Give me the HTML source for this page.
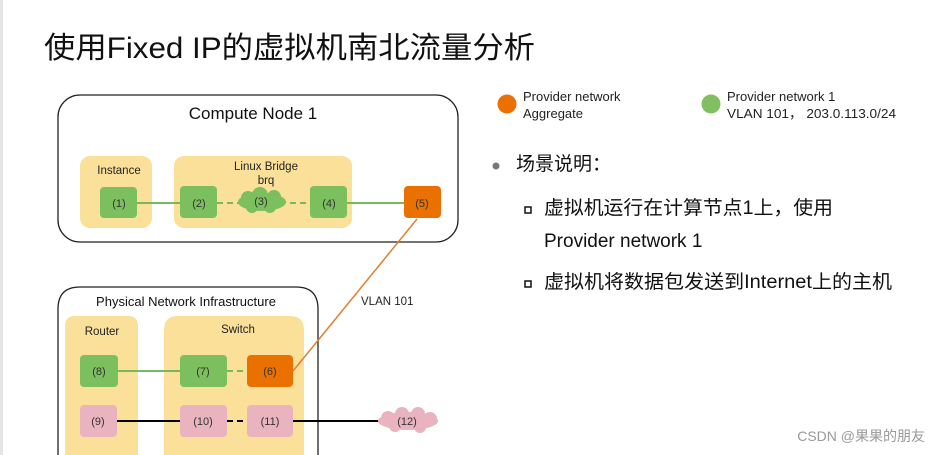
<!DOCTYPE html>
<html><head><meta charset="utf-8"><style>
html,body{margin:0;padding:0;background:#fff;width:939px;height:455px;overflow:hidden}
svg{display:block}
text{font-family:"Liberation Sans","Noto Sans CJK SC",sans-serif}
</style></head><body>
<svg width="939" height="455" viewBox="0 0 939 455" xmlns="http://www.w3.org/2000/svg">
<rect x="0" y="0" width="3" height="455" fill="#e6e6e6"/>
<text x="44" y="58" font-size="30" textLength="491" lengthAdjust="spacingAndGlyphs" fill="#111">使用Fixed IP的虚拟机南北流量分析</text>

<!-- Compute node -->
<rect x="58" y="95" width="400" height="147" rx="22" fill="#fff" stroke="#222" stroke-width="1.3"/>
<text x="253" y="119" font-size="17" text-anchor="middle" fill="#111">Compute Node 1</text>
<rect x="80" y="156" width="72" height="72" rx="10" fill="#fbe09a"/>
<text x="119" y="174" font-size="11.5" text-anchor="middle" fill="#222">Instance</text>
<rect x="174" y="156" width="178" height="72" rx="10" fill="#fbe09a"/>
<text x="266" y="170" font-size="11.5" text-anchor="middle" fill="#222">Linux Bridge</text>
<text x="266" y="184" font-size="11.5" text-anchor="middle" fill="#222">brq</text>
<line x1="137" y1="203" x2="180" y2="203" stroke="#78b95a" stroke-width="2"/>
<line x1="217" y1="203" x2="240" y2="203" stroke="#78b95a" stroke-width="2" stroke-dasharray="6,4"/>
<line x1="290" y1="203" x2="310" y2="203" stroke="#78b95a" stroke-width="2" stroke-dasharray="6,4"/>
<line x1="347" y1="203" x2="404" y2="203" stroke="#78b95a" stroke-width="2"/>
<rect x="100" y="187" width="37" height="31" rx="4" fill="#7cbf5e"/>
<rect x="180" y="186" width="37" height="32" rx="4" fill="#7cbf5e"/>
<rect x="310" y="186" width="37" height="32" rx="4" fill="#7cbf5e"/>
<g fill="#7cbf5e">
<ellipse cx="262" cy="202" rx="24" ry="9"/><circle cx="248" cy="198" r="7"/><circle cx="260" cy="195" r="8"/><circle cx="274" cy="197" r="7"/><circle cx="252" cy="207" r="6"/><circle cx="270" cy="207" r="6"/>
</g>
<rect x="404" y="186" width="37" height="32" rx="4" fill="#ea7000"/>
<g font-size="11" text-anchor="middle" fill="#333">
<text x="119" y="207">(1)</text><text x="199" y="207">(2)</text><text x="261" y="205">(3)</text><text x="329" y="207">(4)</text><text x="422" y="207">(5)</text>
</g>

<!-- Physical -->
<path d="M58 455 L58 309 Q58 287 80 287 L296 287 Q318 287 318 309 L318 455" fill="#fff" stroke="#222" stroke-width="1.3"/>
<text x="186" y="306" font-size="13" text-anchor="middle" fill="#111">Physical Network Infrastructure</text>
<path d="M65 455 L65 326 Q65 316 75 316 L128 316 Q138 316 138 326 L138 455 Z" fill="#fbe09a"/>
<text x="102" y="335" font-size="11.5" text-anchor="middle" fill="#222">Router</text>
<path d="M164 455 L164 330 Q164 316 178 316 L290 316 Q304 316 304 330 L304 455 Z" fill="#fbe09a"/>
<text x="238" y="333" font-size="11.5" text-anchor="middle" fill="#222">Switch</text>
<line x1="118" y1="371" x2="180" y2="371" stroke="#78b95a" stroke-width="2"/>
<line x1="227" y1="371" x2="247" y2="371" stroke="#78b95a" stroke-width="2" stroke-dasharray="6,4"/>
<line x1="117" y1="421" x2="180" y2="421" stroke="#000" stroke-width="2"/>
<line x1="227" y1="421" x2="247" y2="421" stroke="#000" stroke-width="2" stroke-dasharray="6,4"/>
<line x1="293" y1="421" x2="380" y2="421" stroke="#000" stroke-width="2"/>
<rect x="80" y="355" width="38" height="32" rx="4" fill="#7cbf5e"/>
<rect x="180" y="355" width="47" height="32" rx="4" fill="#7cbf5e"/>
<rect x="247" y="355" width="46" height="32" rx="4" fill="#ea7000"/>
<rect x="80" y="405" width="37" height="32" rx="4" fill="#eab3c0"/>
<rect x="180" y="405" width="47" height="32" rx="4" fill="#eab3c0"/>
<rect x="247" y="405" width="46" height="32" rx="4" fill="#eab3c0"/>
<g fill="#eab3c0">
<ellipse cx="408" cy="421" rx="30" ry="9"/><circle cx="388" cy="418" r="7"/><circle cx="402" cy="414" r="7"/><circle cx="418" cy="414" r="7"/><circle cx="430" cy="419" r="7"/><circle cx="395" cy="426" r="6"/><circle cx="420" cy="427" r="6"/>
</g>
<g font-size="11" text-anchor="middle" fill="#333">
<text x="99" y="375">(8)</text><text x="203" y="375">(7)</text><text x="270" y="375">(6)</text>
<text x="98" y="425">(9)</text><text x="203" y="425">(10)</text><text x="270" y="425">(11)</text><text x="407" y="425">(12)</text>
</g>

<!-- VLAN line -->
<line x1="417" y1="219" x2="293" y2="371" stroke="#e08030" stroke-width="1.5"/>
<text x="361" y="305" font-size="11.5" fill="#222">VLAN 101</text>

<!-- Legend -->
<circle cx="507" cy="104" r="9.5" fill="#ea7000"/>
<text x="523" y="101" font-size="13" fill="#222">Provider network</text>
<text x="523" y="118" font-size="13" fill="#222">Aggregate</text>
<circle cx="711" cy="104" r="9.5" fill="#80c060"/>
<text x="727" y="101" font-size="13" fill="#222">Provider network 1</text>
<text x="727" y="118" font-size="13" fill="#222" textLength="169" lengthAdjust="spacingAndGlyphs">VLAN 101， 203.0.113.0/24</text>

<!-- Bullets -->
<circle cx="496" cy="166" r="3.5" fill="#777"/>
<text x="516" y="170" font-size="19" fill="#111">场景说明：</text>
<rect x="525" y="207" width="6" height="6" fill="none" stroke="#111" stroke-width="1.5"/>
<text x="544" y="214" font-size="19" fill="#111" textLength="289" lengthAdjust="spacingAndGlyphs">虚拟机运行在计算节点1上，使用</text>
<text x="544" y="247" font-size="19" fill="#111">Provider network 1</text>
<rect x="525" y="281" width="6" height="6" fill="none" stroke="#111" stroke-width="1.5"/>
<text x="544" y="288" font-size="19" fill="#111" textLength="348" lengthAdjust="spacingAndGlyphs">虚拟机将数据包发送到Internet上的主机</text>

<text x="925" y="441" font-size="14" text-anchor="end" fill="#999">CSDN @果果的朋友</text>
</svg>
</body></html>
